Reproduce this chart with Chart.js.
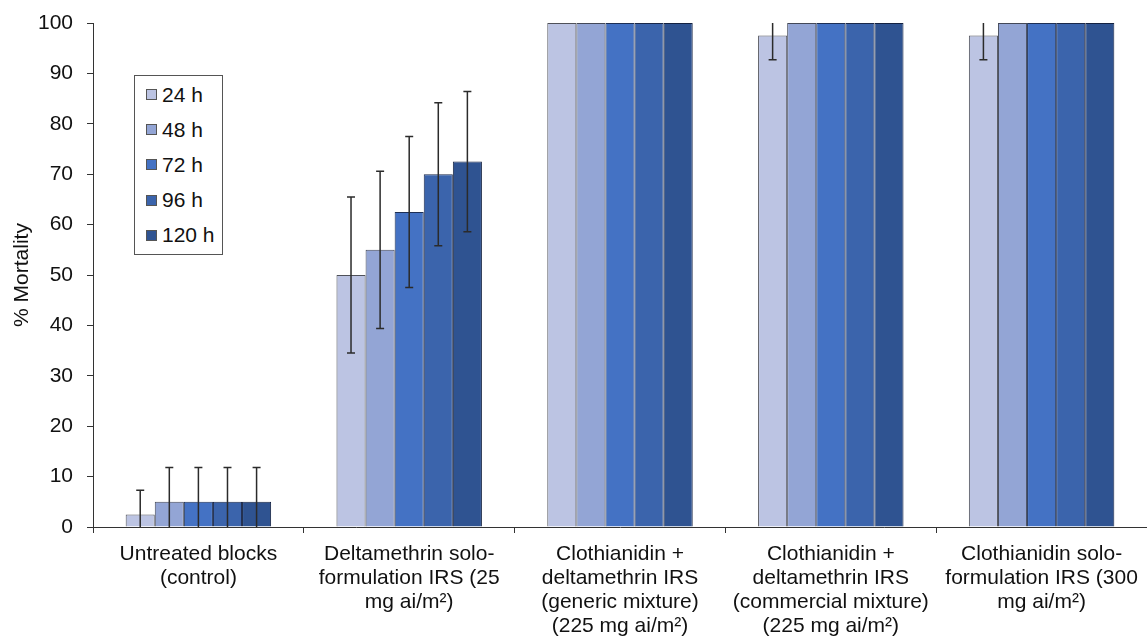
<!DOCTYPE html>
<html>
<head>
<meta charset="utf-8">
<script src="https://cdn.jsdelivr.net/npm/chart.js@4.4.1/dist/chart.umd.min.js"></script>
<style>
    html, body { margin: 0; padding: 0; background: #fff; }
    #wrap { position: relative; width: 1147px; height: 643px; }
    #legend {
        position: absolute; left: 134px; top: 75px; width: 87px; height: 176px;
        border: 1px solid #555; background: #fff;
        font-family: "Liberation Sans", Arial, sans-serif; font-size: 21px; color: #111;
        display: flex; flex-direction: column; justify-content: space-around; padding: 1px 0;
    }
    #legend .row { display: flex; align-items: center; height: 35px; }
    #legend .sw { width: 9px; height: 9px; margin: 0 5px 0 11px; border: 1px solid #555; }
</style>
</head>
<body>
<div id="wrap">
    <canvas id="mortalityChart" width="1147" height="643"></canvas>
    <div id="legend"></div>
</div>
<script>
const categories = [
    ["Untreated blocks", "(control)"],
    ["Deltamethrin solo-", "formulation IRS (25", "mg ai/m²)"],
    ["Clothianidin +", "deltamethrin IRS", "(generic mixture)", "(225 mg ai/m²)"],
    ["Clothianidin +", "deltamethrin IRS", "(commercial mixture)", "(225 mg ai/m²)"],
    ["Clothianidin solo-", "formulation IRS (300", "mg ai/m²)"]
];
const seriesLabels = ["24 h", "48 h", "72 h", "96 h", "120 h"];

const mortality24 = [2.5, 50, 100, 97.5, 97.5];
const mortality48 = [5, 55, 100, 100, 100];
const mortality72 = [5, 62.5, 100, 100, 100];
const mortality96 = [5, 70, 100, 100, 100];
const mortality120 = [5, 72.5, 100, 100, 100];

const err24 = [4.8, 15.5, 0, 4.8, 4.8];
const err48 = [6.8, 15.6, 0, 0, 0];
const err72 = [6.8, 15.0, 0, 0, 0];
const err96 = [6.8, 14.2, 0, 0, 0];
const err120 = [6.8, 13.9, 0, 0, 0];

const yTicks = [0, 10, 20, 30, 40, 50, 60, 70, 80, 90, 100];

const fills = ["#bcc4e3", "#93a5d5", "#4472c4", "#3b64ac", "#2f5391"];
const edges = ["#4f5159", "#434858", "#1d2f55", "#1a284a", "#142242"];

const values = [mortality24, mortality48, mortality72, mortality96, mortality120];
const errors = [err24, err48, err72, err96, err120];

const FONT = "'Liberation Sans', Arial, sans-serif";

const errorBars = {
    id: "errorBars",
    afterDatasetsDraw(chart) {
        const ctx = chart.ctx;
        const y = chart.scales.y;
        ctx.save();
        ctx.strokeStyle = "#2b2b2b";
        ctx.lineWidth = 1.5;
        chart.data.datasets.forEach((ds, di) => {
            const meta = chart.getDatasetMeta(di);
            meta.data.forEach((bar, i) => {
                const e = ds.errors[i];
                if (!e) return;
                const v = ds.data[i];
                const yh = y.getPixelForValue(Math.min(v + e, 100));
                const yl = y.getPixelForValue(Math.max(v - e, 0));
                ctx.beginPath();
                ctx.moveTo(bar.x, yh);
                ctx.lineTo(bar.x, yl);
                if (v + e <= 100) { ctx.moveTo(bar.x - 4, yh); ctx.lineTo(bar.x + 4, yh); }
                if (v - e >= 0) { ctx.moveTo(bar.x - 4, yl); ctx.lineTo(bar.x + 4, yl); }
                ctx.stroke();
            });
        });
        ctx.restore();
    }
};

const chart = new Chart(document.getElementById("mortalityChart"), {
    type: "bar",
    data: {
        labels: categories,
        datasets: seriesLabels.map((label, i) => ({
            label: label,
            data: values[i],
            errors: errors[i],
            backgroundColor: fills[i],
            borderColor: edges[i],
            borderWidth: 1,
            categoryPercentage: 0.69,
            barPercentage: 1.0
        }))
    },
    options: {
        responsive: false,
        animation: false,
        layout: { padding: { top: 23, right: 0, bottom: 0, left: 0 } },
        plugins: { legend: { display: false }, tooltip: { enabled: false } },
        scales: {
            x: {
                offset: true,
                grid: { offset: true, drawOnChartArea: false, color: "#333", tickLength: 6 },
                border: { color: "#333", width: 1 },
                ticks: {
                    color: "#111", padding: 9, maxRotation: 0, autoSkip: false,
                    font: { family: FONT, size: 21, lineHeight: "24px" }
                },
                afterFit(scale) {
                    scale.height = 116;
                    scale.paddingLeft = 0;
                    scale.paddingRight = 0;
                }
            },
            y: {
                min: 0, max: 100,
                afterBuildTicks(scale) { scale.ticks = yTicks.map(v => ({ value: v })); },
                grid: { drawOnChartArea: false, color: "#333", tickLength: 6 },
                border: { color: "#333", width: 1 },
                ticks: {
                    color: "#111", padding: 14,
                    font: { family: FONT, size: 21 }
                },
                title: {
                    display: true, text: "% Mortality", color: "#111",
                    font: { family: FONT, size: 21 }, padding: { top: 10, bottom: 0 }
                },
                afterFit(scale) {
                    scale.width = 93;
                    scale.paddingTop = 0;
                    scale.paddingBottom = 0;
                }
            }
        }
    },
    plugins: [errorBars]
});

const legend = document.getElementById("legend");
seriesLabels.forEach((label, i) => {
    const row = document.createElement("div");
    row.className = "row";
    const sw = document.createElement("span");
    sw.className = "sw";
    sw.style.background = fills[i];
    const txt = document.createElement("span");
    txt.textContent = label;
    row.appendChild(sw);
    row.appendChild(txt);
    legend.appendChild(row);
});
</script>
</body>
</html>
